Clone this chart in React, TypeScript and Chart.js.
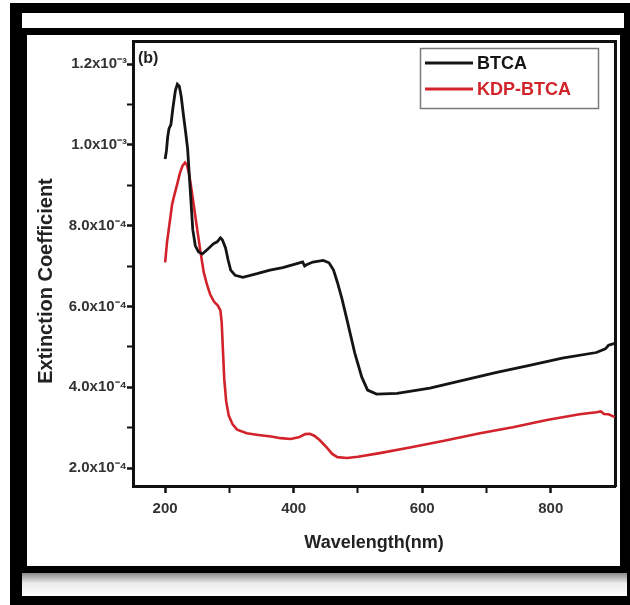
import React, { useEffect, useRef } from 'react';
import { Chart, registerables } from 'chart.js';

Chart.register(...registerables);

const FONT = '"Liberation Sans", Arial, Helvetica, sans-serif';

// BTCA: wavelength (nm) and extinction coefficient (in units of 1e-4)
const btcaWavelength = [
  200, 202, 204, 206, 209, 212, 216, 219, 222, 225, 228, 232, 235, 239, 243, 247, 252, 258, 267, 275,
  281, 286, 289, 294, 298, 302, 309, 321, 343, 363, 383, 405, 414, 417, 420, 430, 446, 455, 462, 468,
  475, 484, 495, 506, 515, 529, 561, 612, 663, 716, 767, 818, 871, 885, 890, 900,
];
const btcaValues = [
  9.65, 9.85, 10.2, 10.4, 10.5, 10.9, 11.35, 11.5, 11.45, 11.2, 10.8, 10.3, 9.9, 8.9, 7.9, 7.5, 7.35, 7.3, 7.43, 7.55,
  7.6, 7.7, 7.65, 7.45, 7.15, 6.9, 6.77, 6.72, 6.81, 6.9, 6.96, 7.06, 7.1, 7.0, 7.03, 7.1, 7.14, 7.08, 6.9, 6.6,
  6.2, 5.6, 4.85, 4.25, 3.93, 3.83, 3.85, 3.98, 4.17, 4.37, 4.54, 4.72, 4.86, 4.95, 5.04, 5.09,
];

// KDP-BTCA: wavelength (nm) and extinction coefficient (in units of 1e-4)
const kdpWavelength = [
  200, 203, 206, 211, 215, 219, 223, 227, 231, 234, 237, 241, 245, 250, 255, 260, 265, 270, 276, 282,
  286, 288, 290, 292, 295, 299, 305, 312, 327, 345, 365, 380, 395, 408, 418, 425, 432, 440, 452, 460,
  468, 483, 500, 534, 585, 638, 690, 741, 794, 845, 871, 878, 883, 890, 900,
];
const kdpValues = [
  7.09, 7.6, 7.95, 8.54, 8.8, 9.04, 9.3, 9.48, 9.56, 9.5, 9.3, 8.9, 8.45, 7.9, 7.35, 6.85, 6.55, 6.3, 6.12, 6.02,
  5.9, 5.6, 4.9, 4.2, 3.65, 3.3, 3.08, 2.95, 2.86, 2.82, 2.78, 2.74, 2.72, 2.76, 2.84, 2.85, 2.8, 2.7, 2.5, 2.35,
  2.27, 2.25, 2.28, 2.37, 2.52, 2.69, 2.86, 3.01, 3.19, 3.33, 3.38, 3.4, 3.34, 3.33, 3.26,
];

const seriesLabels = ['BTCA', 'KDP-BTCA'];
const seriesColors = ['#141414', '#d2232a'];
const legendTextColors = ['#151515', '#d2232a'];

const xTickValues = [200, 300, 400, 500, 600, 700, 800];
const xTickLabels = ['200', '', '400', '', '600', '', '800'];
const yTickValues = [2e-4, 3e-4, 4e-4, 5e-4, 6e-4, 7e-4, 8e-4, 9e-4, 1.0e-3, 1.1e-3, 1.2e-3];
const yTickLabels = ['2.0x10⁻⁴', '', '4.0x10⁻⁴', '', '6.0x10⁻⁴', '', '8.0x10⁻⁴', '', '1.0x10⁻³', '', '1.2x10⁻³'];

const xTitle = 'Wavelength(nm)';
const yTitle = 'Extinction Coefficient';
const panelLabel = '(b)';

const UNIT = 1e-4;

const overlayPlugin = {
  id: 'overlay',
  afterDraw(chart: any) {
    const { ctx, chartArea } = chart;
    ctx.save();
    // y axis title
    ctx.save();
    ctx.translate(46, chartArea.top + 240);
    ctx.rotate(-Math.PI / 2);
    ctx.font = `bold 20px ${FONT}`;
    ctx.fillStyle = '#222';
    ctx.textAlign = 'center';
    ctx.textBaseline = 'middle';
    ctx.fillText(yTitle, 0, 0);
    ctx.restore();

    // panel label
    ctx.font = `bold 16px ${FONT}`;
    ctx.fillStyle = '#222';
    ctx.textAlign = 'left';
    ctx.textBaseline = 'middle';
    ctx.fillText(panelLabel, chartArea.left + 5, chartArea.top + 18);

    // legend
    const bx = chartArea.right - 195;
    const by = chartArea.top + 7;
    const bw = 178;
    const bh = 60;
    ctx.strokeStyle = '#7a7a7a';
    ctx.lineWidth = 1.5;
    ctx.strokeRect(bx + 0.5, by + 0.5, bw, bh);
    chart.data.datasets.forEach((ds: any, i: number) => {
      const y = by + 15 + i * 26;
      ctx.strokeStyle = ds.borderColor;
      ctx.lineWidth = 3;
      ctx.beginPath();
      ctx.moveTo(bx + 5, y);
      ctx.lineTo(bx + 53, y);
      ctx.stroke();
      ctx.font = `bold 18px ${FONT}`;
      ctx.fillStyle = legendTextColors[i];
      ctx.textAlign = 'left';
      ctx.textBaseline = 'middle';
      ctx.fillText(ds.label, bx + 57, y + 1);
    });
    ctx.restore();
  },
};

export default function App() {
  const canvasRef = useRef<HTMLCanvasElement | null>(null);

  useEffect(() => {
    if (!canvasRef.current) return;
    const chart = new Chart(canvasRef.current, {
      type: 'line',
      data: {
        datasets: [
          {
            label: seriesLabels[0],
            data: btcaWavelength.map((w, i) => ({ x: w, y: btcaValues[i] * UNIT })),
            borderColor: seriesColors[0],
            borderWidth: 2.8,
            pointRadius: 0,
            tension: 0,
            fill: false,
          },
          {
            label: seriesLabels[1],
            data: kdpWavelength.map((w, i) => ({ x: w, y: kdpValues[i] * UNIT })),
            borderColor: seriesColors[1],
            borderWidth: 2.6,
            pointRadius: 0,
            tension: 0,
            fill: false,
          },
        ],
      },
      options: {
        responsive: false,
        animation: false,
        layout: { padding: { left: 27, top: 41, right: 15, bottom: 39 } },
        plugins: {
          legend: { display: false },
          tooltip: { enabled: false },
        },
        scales: {
          x: {
            type: 'linear',
            position: 'bottom',
            min: 150,
            max: 900,
            afterBuildTicks: (s: any) => {
              s.ticks = xTickValues.map((v) => ({ value: v }));
            },
            afterFit: (s: any) => {
              s.height = 80;
            },
            ticks: {
              autoSkip: false,
              maxRotation: 0,
              padding: 7,
              color: '#333',
              font: { family: FONT, size: 15, weight: 'bold' },
              callback: (_v: any, i: number) => xTickLabels[i] ?? '',
            },
            grid: {
              drawOnChartArea: false,
              drawTicks: true,
              tickLength: 7,
              tickColor: '#111',
              tickWidth: (c: any) => (xTickLabels[c.index] ? 2.5 : 2),
            },
            border: { display: true, color: '#111', width: 3 },
            title: {
              display: true,
              text: xTitle,
              color: '#222',
              font: { family: FONT, size: 18, weight: 'bold' },
              padding: { top: 0, bottom: 12 },
            },
          },
          y: {
            type: 'linear',
            position: 'left',
            min: 1.556e-4,
            max: 1.257e-3,
            afterBuildTicks: (s: any) => {
              s.ticks = yTickValues.map((v) => ({ value: v }));
            },
            afterFit: (s: any) => {
              s.width = 106;
            },
            ticks: {
              autoSkip: false,
              padding: 0,
              color: '#333',
              font: { family: FONT, size: 15, weight: 'bold' },
              callback: (_v: any, i: number) => yTickLabels[i] ?? '',
            },
            grid: {
              drawOnChartArea: false,
              drawTicks: true,
              tickLength: 6,
              tickColor: '#111',
              tickWidth: (c: any) => (yTickLabels[c.index] ? 2.5 : 2),
            },
            border: { display: true, color: '#111', width: 3 },
          },
          x2: {
            type: 'linear',
            axis: 'x',
            position: 'top',
            min: 150,
            max: 900,
            afterFit: (s: any) => {
              s.height = 0;
            },
            ticks: { display: false },
            grid: { display: false, drawTicks: false },
            border: { display: true, color: '#111', width: 3 },
          },
          y2: {
            type: 'linear',
            axis: 'y',
            position: 'right',
            min: 1.556e-4,
            max: 1.257e-3,
            afterFit: (s: any) => {
              s.width = 0;
            },
            ticks: { display: false },
            grid: { display: false, drawTicks: false },
            border: { display: true, color: '#111', width: 3 },
          },
        },
      } as any,
      plugins: [overlayPlugin],
    });
    return () => chart.destroy();
  }, []);

  return (
    <div style={{ position: 'fixed', left: 0, top: 0, width: 630, height: 605, background: '#fff', overflow: 'hidden' }}>
      <div style={{ position: 'absolute', left: 10, top: 3, width: 620, height: 602, background: '#000' }} />
      <div style={{ position: 'absolute', left: 22, top: 13, width: 602, height: 15, background: '#fff' }} />
      <div style={{ position: 'absolute', left: 27, top: 35, width: 593, height: 531, background: '#fff' }} />
      <div
        style={{
          position: 'absolute',
          left: 22,
          top: 573,
          width: 605,
          height: 23,
          background: 'linear-gradient(#8a8a8a, #ececec 45%, #ffffff)',
        }}
      />
      <canvas ref={canvasRef} width={630} height={605} style={{ position: 'absolute', left: 0, top: 0 }} />
    </div>
  );
}
